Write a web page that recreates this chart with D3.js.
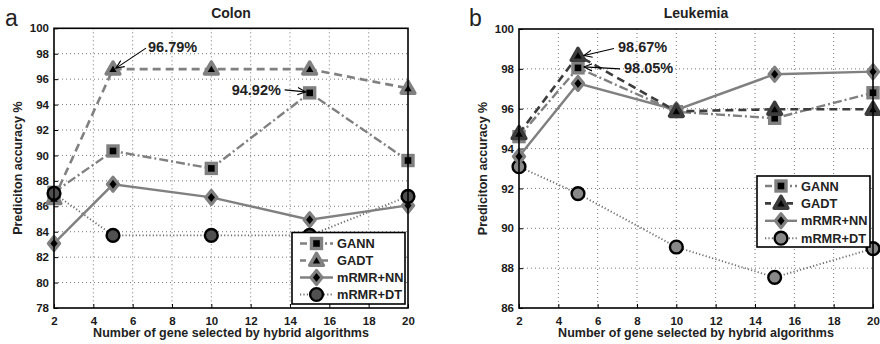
<!DOCTYPE html>
<html>
<head>
<meta charset="utf-8">
<script src="https://cdn.jsdelivr.net/npm/d3@7"></script>
<style>
  html, body { margin: 0; padding: 0; background: #fff; }
  svg { display: block; font-family: "Liberation Sans", Arial, Helvetica, sans-serif; }
</style>
</head>
<body>
<svg id="chart" width="880" height="344"></svg>
<script>
// Number of selected genes (x positions)
const geneCounts = [2, 5, 10, 15, 20];
const xTicks = [2, 4, 6, 8, 10, 12, 14, 16, 18, 20];
const seriesNames = ["GANN", "GADT", "mRMR+NN", "mRMR+DT"];

// Colon dataset accuracy (%)
const colonGANN  = [87.1, 90.35, 88.98, 94.92, 89.6];
const colonGADT  = [86.6, 96.79, 96.79, 96.79, 95.28];
const colonNN    = [83.08, 87.73, 86.7, 84.94, 86.07];
const colonDT    = [87.02, 83.71, 83.71, 83.71, 86.78];
const colonYTicks = [78, 80, 82, 84, 86, 88, 90, 92, 94, 96, 98, 100];

// Leukemia dataset accuracy (%)
const leukGANN = [94.6, 98.05, 95.85, 95.52, 96.8];
const leukGADT = [94.75, 98.67, 95.87, 95.97, 95.97];
const leukNN   = [93.6, 97.27, 95.94, 97.73, 97.86];
const leukDT   = [93.09, 91.74, 89.06, 87.54, 88.98];
const leukYTicks = [86, 88, 90, 92, 94, 96, 98, 100];

const svg = d3.select("#chart");

// arrowhead for value callouts
svg.append("defs").append("marker")
  .attr("id", "arrowHead")
  .attr("viewBox", "0 0 10 10")
  .attr("refX", 9).attr("refY", 5)
  .attr("markerWidth", 9).attr("markerHeight", 9)
  .attr("markerUnits", "userSpaceOnUse")
  .attr("orient", "auto")
  .append("path")
  .attr("d", "M0,1 L9,5 L0,9")
  .attr("fill", "none")
  .attr("stroke", "#000")
  .attr("stroke-width", 1.2);

function markerShape(g, name, style) {
  if (name === "mRMR+DT") {
    g.append("circle").attr("r", 6.4)
      .attr("fill", style.circleFill).attr("stroke", "#000").attr("stroke-width", 2.4);
  } else if (name === "GANN") {
    g.append("rect").attr("x", -5).attr("y", -5).attr("width", 10).attr("height", 10)
      .attr("fill", "#000").attr("stroke", style.edge).attr("stroke-width", 3.4);
  } else if (name === "GADT") {
    g.append("path").attr("d", "M0,-7 L6.8,4.8 L-6.8,4.8 Z")
      .attr("fill", "#000").attr("stroke", style.gadtEdge).attr("stroke-width", 3.6)
      .attr("stroke-linejoin", "round");
  } else {
    g.append("path").attr("d", "M0,-7 L5.6,0 L0,7 L-5.6,0 Z")
      .attr("fill", "#000").attr("stroke", style.edge).attr("stroke-width", 3.2)
      .attr("stroke-linejoin", "round");
  }
}

function drawPanel(cfg) {
  const x = d3.scaleLinear().domain([2, 20]).range([cfg.left, cfg.right]);
  const y = d3.scaleLinear().domain(cfg.yDomain).range([cfg.bottom, cfg.top]);
  const g = svg.append("g");

  // dotted grid
  g.append("g").selectAll("line").data(xTicks.slice(1, -1)).join("line")
    .attr("x1", d => x(d)).attr("x2", d => x(d))
    .attr("y1", cfg.top).attr("y2", cfg.bottom)
    .attr("stroke", "#777").attr("stroke-width", 1).attr("stroke-dasharray", "1,3");
  g.append("g").selectAll("line").data(cfg.yTicks.slice(1, -1)).join("line")
    .attr("x1", cfg.left).attr("x2", cfg.right)
    .attr("y1", d => y(d)).attr("y2", d => y(d))
    .attr("stroke", "#777").attr("stroke-width", 1).attr("stroke-dasharray", "1,3");

  // axes
  const xAxis = g.append("g").attr("transform", `translate(0,${cfg.bottom})`)
    .call(d3.axisBottom(x).tickValues(xTicks).tickSize(-4).tickPadding(9).tickFormat(d3.format("d")));
  const yAxis = g.append("g").attr("transform", `translate(${cfg.left},0)`)
    .call(d3.axisLeft(y).tickValues(cfg.yTicks).tickSize(-4).tickPadding(5).tickFormat(d3.format("d")));
  [xAxis, yAxis].forEach(a => {
    a.select(".domain").remove();
    a.selectAll(".tick line").attr("stroke", "#000").attr("stroke-width", 1);
    a.selectAll(".tick text").attr("fill", "#1a1a1a").attr("font-size", 11.5).attr("font-weight", "bold")
      .attr("font-family", "'Liberation Sans', Arial, sans-serif");
  });

  const line = d3.line().x((d, i) => x(geneCounts[i])).y(d => y(d));
  const styles = {
    GANN: { color: "#808080", width: 2.4, dash: "9,3,2,3" },
    GADT: { color: cfg.gadtLine, width: 2.6, dash: "8,5" },
    "mRMR+NN": { color: "#808080", width: 2.4, dash: null },
    "mRMR+DT": { color: "#6e6e6e", width: 1.9, dash: "1.2,2.2" }
  };
  const mStyle = { edge: "#808080", gadtEdge: cfg.gadtEdge, circleFill: cfg.circleFill };

  const drawOrder = ["mRMR+DT", "mRMR+NN", "GANN", "GADT"];
  const seriesData = cfg.series;
  // lines
  drawOrder.forEach(name => {
    const s = styles[name];
    g.append("path").datum(seriesData[name])
      .attr("d", line).attr("fill", "none")
      .attr("stroke", s.color).attr("stroke-width", s.width)
      .attr("stroke-dasharray", s.dash);
  });
  // markers
  cfg.markerOrder.forEach(name => {
    seriesData[name].forEach((v, i) => {
      const mg = g.append("g").attr("transform", `translate(${x(geneCounts[i])},${y(v)})`);
      markerShape(mg, name, mStyle);
    });
  });

  // plot frame
  g.append("rect").attr("x", cfg.left).attr("y", cfg.top)
    .attr("width", cfg.right - cfg.left).attr("height", cfg.bottom - cfg.top)
    .attr("fill", "none").attr("stroke", "#000").attr("stroke-width", 1.6);

  // titles and labels
  g.append("text").attr("x", (cfg.left + cfg.right) / 2).attr("y", 18)
    .attr("text-anchor", "middle").attr("font-size", 14).attr("font-weight", "bold")
    .attr("fill", "#222").text(cfg.title);
  g.append("text").attr("x", cfg.letterX).attr("y", 26)
    .attr("font-size", 23).attr("fill", "#222").text(cfg.letter);
  g.append("text")
    .attr("transform", `translate(${cfg.ylabelX},${(cfg.top + cfg.bottom) / 2}) rotate(-90)`)
    .attr("text-anchor", "middle").attr("font-size", 12.5).attr("font-weight", "bold")
    .attr("fill", "#222").text("Prediciton accuracy %");
  g.append("text").attr("x", (cfg.left + cfg.right) / 2).attr("y", 337)
    .attr("text-anchor", "middle").attr("font-size", 12.5).attr("font-weight", "bold")
    .attr("fill", "#222").text("Number of gene selected by hybrid algorithms");

  // callouts
  cfg.callouts.forEach(c => {
    const px = x(c.gene), py = y(c.value);
    g.append("line")
      .attr("x1", px + c.from[0]).attr("y1", py + c.from[1])
      .attr("x2", px + c.to[0]).attr("y2", py + c.to[1])
      .attr("stroke", "#000").attr("stroke-width", 1.1)
      .attr("marker-end", "url(#arrowHead)");
    g.append("text").attr("x", px + c.text[0]).attr("y", py + c.text[1])
      .attr("font-size", 14.5).attr("font-weight", "bold").attr("fill", "#222")
      .text(d3.format(".2f")(c.value) + "%");
  });

  // legend
  const lg = cfg.legend;
  g.append("rect").attr("x", lg.x).attr("y", lg.y).attr("width", lg.w).attr("height", lg.h)
    .attr("fill", "#fff").attr("stroke", "#000").attr("stroke-width", 1.6);
  seriesNames.forEach((name, i) => {
    const ry = lg.y + lg.row0 + i * lg.dy;
    const s = styles[name];
    g.append("line").attr("x1", lg.x + lg.s0).attr("x2", lg.x + lg.s1)
      .attr("y1", ry).attr("y2", ry)
      .attr("stroke", s.color).attr("stroke-width", s.width)
      .attr("stroke-dasharray", name === "GANN" ? "7,3,2,3" : name === "GADT" ? "6,5" : s.dash);
    const mg = g.append("g").attr("transform", `translate(${lg.x + (lg.s0 + lg.s1) / 2},${ry})`);
    markerShape(mg, name, mStyle);
    g.append("text").attr("x", lg.x + lg.tx).attr("y", ry + 4.5)
      .attr("font-size", 12.8).attr("font-weight", "bold").attr("fill", "#222").text(name);
  });
}

drawPanel({
  left: 54, right: 408, top: 28.3, bottom: 308,
  yDomain: [78, 100], yTicks: colonYTicks,
  title: "Colon", letter: "a", letterX: 5, ylabelX: 22,
  gadtLine: "#808080", gadtEdge: "#808080", circleFill: "#505050",
  series: { GANN: colonGANN, GADT: colonGADT, "mRMR+NN": colonNN, "mRMR+DT": colonDT },
  markerOrder: ["GANN", "GADT", "mRMR+NN", "mRMR+DT"],
  callouts: [
    { gene: 5, value: colonGADT[1], from: [33, -21], to: [3, -1], text: [35, -17] },
    { gene: 15, value: colonGANN[3], from: [-25, -3], to: [-4, -1], text: [-78, 2] }
  ],
  legend: { x: 292, y: 232.5, w: 113, h: 71.5, row0: 11, dy: 17, s0: 8, s1: 41, tx: 45 }
});

drawPanel({
  left: 519, right: 873, top: 29, bottom: 308,
  yDomain: [86, 100], yTicks: leukYTicks,
  title: "Leukemia", letter: "b", letterX: 469, ylabelX: 487,
  gadtLine: "#3c3c3c", gadtEdge: "#3c3c3c", circleFill: "#888",
  series: { GANN: leukGANN, GADT: leukGADT, "mRMR+NN": leukNN, "mRMR+DT": leukDT },
  markerOrder: ["mRMR+DT", "mRMR+NN", "GANN", "GADT"],
  callouts: [
    { gene: 5, value: leukGADT[1], from: [36, -7], to: [6, 0], text: [40, -4] },
    { gene: 5, value: leukGANN[1], from: [42, 1], to: [6, -1], text: [46, 5] }
  ],
  legend: { x: 757, y: 176, w: 113, h: 71, row0: 10, dy: 17.4, s0: 8, s1: 40, tx: 44 }
});
</script>
</body>
</html>
